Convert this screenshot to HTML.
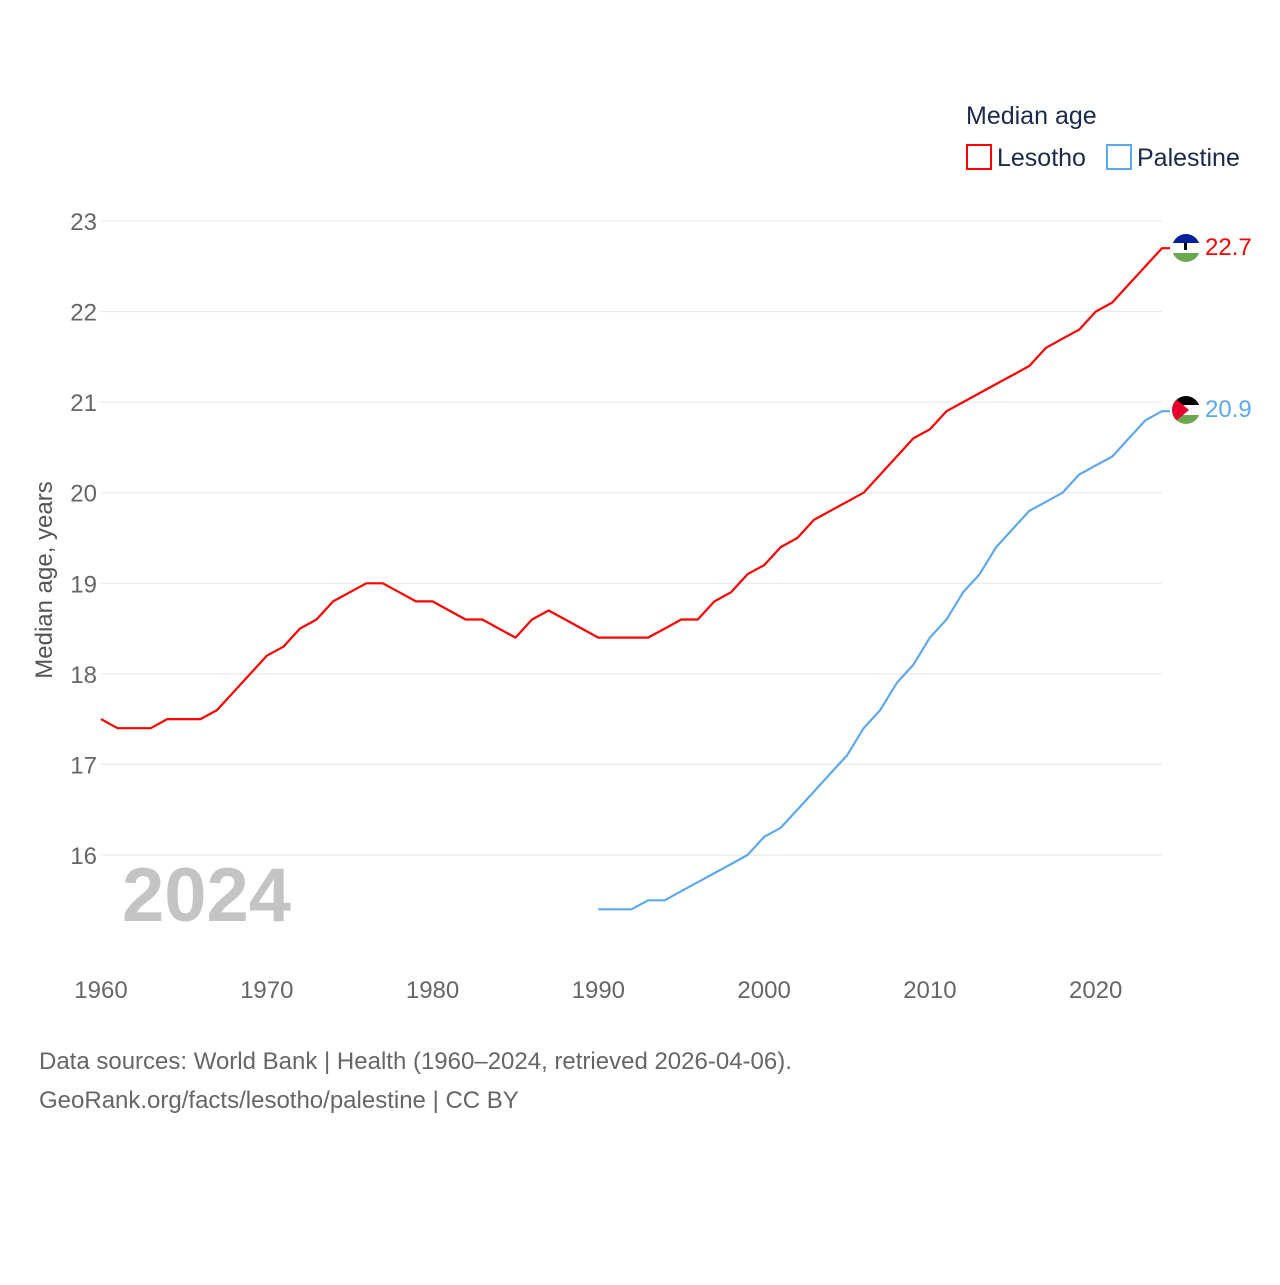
<!DOCTYPE html>
<html><head><meta charset="utf-8">
<style>
body{margin:0;background:#fff;width:1280px;height:1280px;overflow:hidden;font-family:"Liberation Sans",sans-serif;}
svg text{font-family:"Liberation Sans",sans-serif;}
</style></head>
<body>
<svg id="chart" width="1280" height="1280" xmlns="http://www.w3.org/2000/svg">
<text x="966" y="124" font-size="25" fill="#1a2a4a">Median age</text>
<g>
<rect x="967" y="145" width="24" height="24" fill="none" stroke="#ff0000" stroke-width="2"/>
<text x="997" y="166" font-size="25" fill="#1a2a4a">Lesotho</text></g>
<g>
<rect x="1107" y="145" width="24" height="24" fill="none" stroke="#5ea8ee" stroke-width="2"/>
<text x="1137" y="166" font-size="25" fill="#1a2a4a">Palestine</text></g>
<g id="grid"></g>
<g id="yticks"></g>
<g id="xticks"></g>
<text x="52" y="580" font-size="24" fill="#555" transform="rotate(-90 52 580)" text-anchor="middle">Median age, years</text>
<text x="122" y="921" font-size="76" font-weight="bold" fill="#c4c4c4">2024</text>
<g id="series"></g>
<g>
<clipPath id="c1"><circle cx="1186" cy="248" r="14"/></clipPath>
<g clip-path="url(#c1)"><rect x="1170" y="232" width="32" height="11" fill="#00209f"/><rect x="1170" y="243" width="32" height="10" fill="#fff"/><rect x="1170" y="253" width="32" height="11" fill="#6aa84f"/><rect x="1184" y="243" width="3" height="7" fill="#000"/></g></g>
<g>
<clipPath id="c2"><circle cx="1186" cy="410" r="14"/></clipPath>
<g clip-path="url(#c2)"><rect x="1170" y="394" width="32" height="11" fill="#000"/><rect x="1170" y="405" width="32" height="10" fill="#fff"/><rect x="1170" y="415" width="32" height="11" fill="#6aa84f"/><polygon points="1170,394 1189,410 1170,426" fill="#e4002b"/></g></g>
<text x="1205" y="255" font-size="24" fill="#ff0000">22.7</text>
<text x="1205" y="417" font-size="24" fill="#5ea8ee">20.9</text>
<text x="39" y="1069" font-size="24" fill="#666">Data sources: World Bank | Health (1960–2024, retrieved 2026-04-06).</text>
<text x="39" y="1108" font-size="24" fill="#666">GeoRank.org/facts/lesotho/palestine | CC BY</text>
</svg>
<script>
const yTicks=[16,17,18,19,20,21,22,23];
const xTicks=[1960,1970,1980,1990,2000,2010,2020];
const lesothoStart=1960;
const lesotho=[17.5,17.4,17.4,17.4,17.5,17.5,17.5,17.6,17.8,18.0,18.2,18.3,18.5,18.6,18.8,18.9,19.0,19.0,18.9,18.8,18.8,18.7,18.6,18.6,18.5,18.4,18.6,18.7,18.6,18.5,18.4,18.4,18.4,18.4,18.5,18.6,18.6,18.8,18.9,19.1,19.2,19.4,19.5,19.7,19.8,19.9,20.0,20.2,20.4,20.6,20.7,20.9,21.0,21.1,21.2,21.3,21.4,21.6,21.7,21.8,22.0,22.1,22.3,22.5,22.7];
const palestineStart=1990;
const palestine=[15.4,15.4,15.4,15.5,15.5,15.6,15.7,15.8,15.9,16.0,16.2,16.3,16.5,16.7,16.9,17.1,17.4,17.6,17.9,18.1,18.4,18.6,18.9,19.1,19.4,19.6,19.8,19.9,20.0,20.2,20.3,20.4,20.6,20.8,20.9];
const NS="http://www.w3.org/2000/svg";
const X=yr=>101+(yr-1960)*(1162-101)/64;
const Y=v=>855-(v-16)*(855-221)/7;
function mk(t,a,p){const e=document.createElementNS(NS,t);for(const k in a)e.setAttribute(k,a[k]);p.appendChild(e);return e;}
const grid=document.getElementById('grid'),yt=document.getElementById('yticks'),xt=document.getElementById('xticks'),ser=document.getElementById('series');
yTicks.forEach(v=>{
 const l=mk('line',{x1:101,x2:1162,y1:Y(v),y2:Y(v),stroke:'#e6e6e6','stroke-width':1},grid);
 
 
 const t=mk('text',{x:97,y:Y(v)+9,'font-size':24,fill:'#666','text-anchor':'end'},yt);
 t.textContent=v;
 
 
});
xTicks.forEach(v=>{
 const t=mk('text',{x:X(v),y:998,'font-size':24,fill:'#666','text-anchor':'middle'},xt);
 t.textContent=v;
 
 
});
function line(data,start,color,name){
 const pts=data.map((v,i)=>X(start+i).toFixed(1)+','+Y(v).toFixed(1));
 const last=data[data.length-1];
 pts.push('1170,'+Y(last).toFixed(1));
 const p=mk('polyline',{points:pts.join(' '),fill:'none',stroke:color,'stroke-width':2.2,'stroke-linejoin':'round'},ser);
 
 
}
line(lesotho,lesothoStart,'#ff0000','line-lesotho');
line(palestine,palestineStart,'#5ea8ee','line-palestine');
</script>
</body></html>
